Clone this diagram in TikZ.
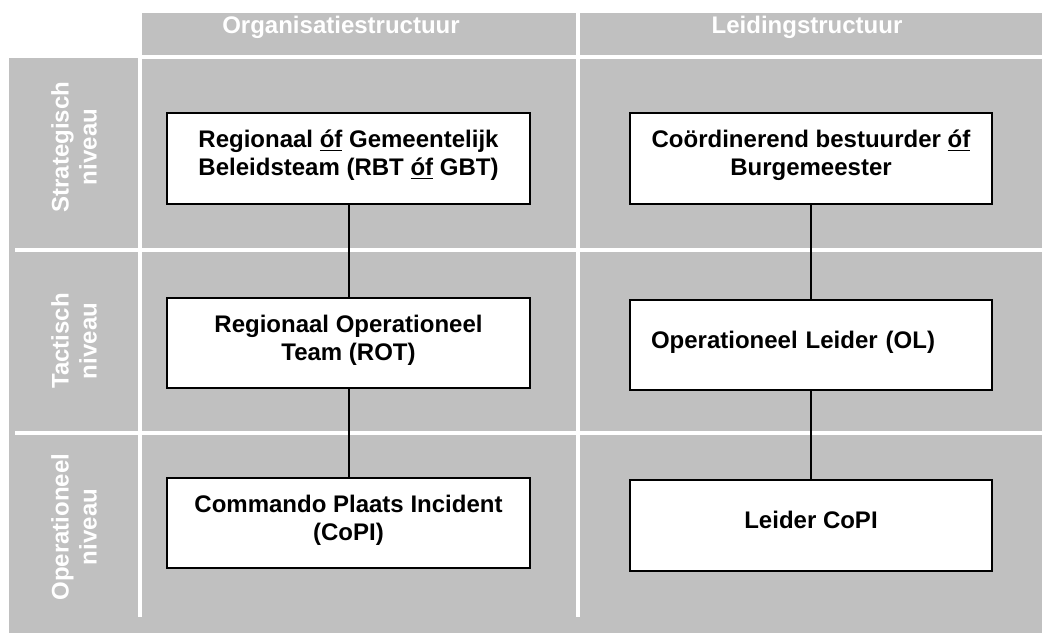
\documentclass[tikz,border=0pt]{standalone}
\usepackage{fontspec}
\setmainfont{Liberation Sans}
\definecolor{grijs}{HTML}{C0C0C0}
\begin{document}
\begin{tikzpicture}[x=0.75pt,y=-0.75pt]
\tikzset{
  vak/.style={draw,fill=white,line width=1.5pt,minimum width=272pt,minimum height=68pt,
    align=center,text depth=8pt,font=\fontsize{18}{21}\selectfont\bfseries},
  kop/.style={text=white,anchor=base,font=\fontsize{18}{21}\selectfont\bfseries},
  niveau/.style={text=white,rotate=90,align=center,font=\fontsize{18}{21}\selectfont\bfseries},
  scheiding/.style={white,line width=3pt},
  lijn/.style={-,line width=1.5pt}
}
\useasboundingbox (0,0) rectangle (1042,635);

% achtergrond en scheidingslijnen
\fill[grijs] (142,13) rectangle (1042,55);
\fill[grijs] (9,58) rectangle (1042,633);
\draw[scheiding] (142,57.5) -- (1042,57.5);
\draw[scheiding] (15,250) -- (1042,250);
\draw[scheiding] (15,433) -- (1042,433);
\draw[scheiding] (140,57) -- (140,617);
\draw[scheiding] (578,13) -- (578,617);

% kopjes
\node[kop] (org) at (341,34) {Organisatiestructuur};
\node[kop] (lei) at (807,34) {Leidingstructuur};

% niveaus
\node[niveau] (strat) at (74,147) {Strategisch\\niveau};
\node[niveau] (tact)  at (74,341) {Tactisch\\niveau};
\node[niveau] (oper)  at (74,527) {Operationeel\\niveau};

% organisatiestructuur
\node[vak] (rbt)  at (348.5,158.5) {Regionaal \underline{óf} Gemeentelijk\\Beleidsteam (RBT \underline{óf} GBT)};
\node[vak] (rot)  at (348.5,343)   {Regionaal Operationeel\\Team (ROT)};
\node[vak] (copi) at (348.5,523)   {Commando Plaats Incident\\(CoPI)};

% leidingstructuur
\node[vak] (cb) at (811,158.5) {Coördinerend bestuurder \underline{óf}\\Burgemeester};
\node[vak,align=left,text width=240pt,inner xsep=16pt] (ol) at (811,345) {Operationeel Leider (OL)};
\node[vak] (lc) at (811,525.5) {Leider CoPI};

% verbindingen
\draw[lijn] (rbt) -- (rot);
\draw[lijn] (rot) -- (copi);
\draw[lijn] (cb) -- (ol);
\draw[lijn] (ol) -- (lc);
\end{tikzpicture}
\end{document}
